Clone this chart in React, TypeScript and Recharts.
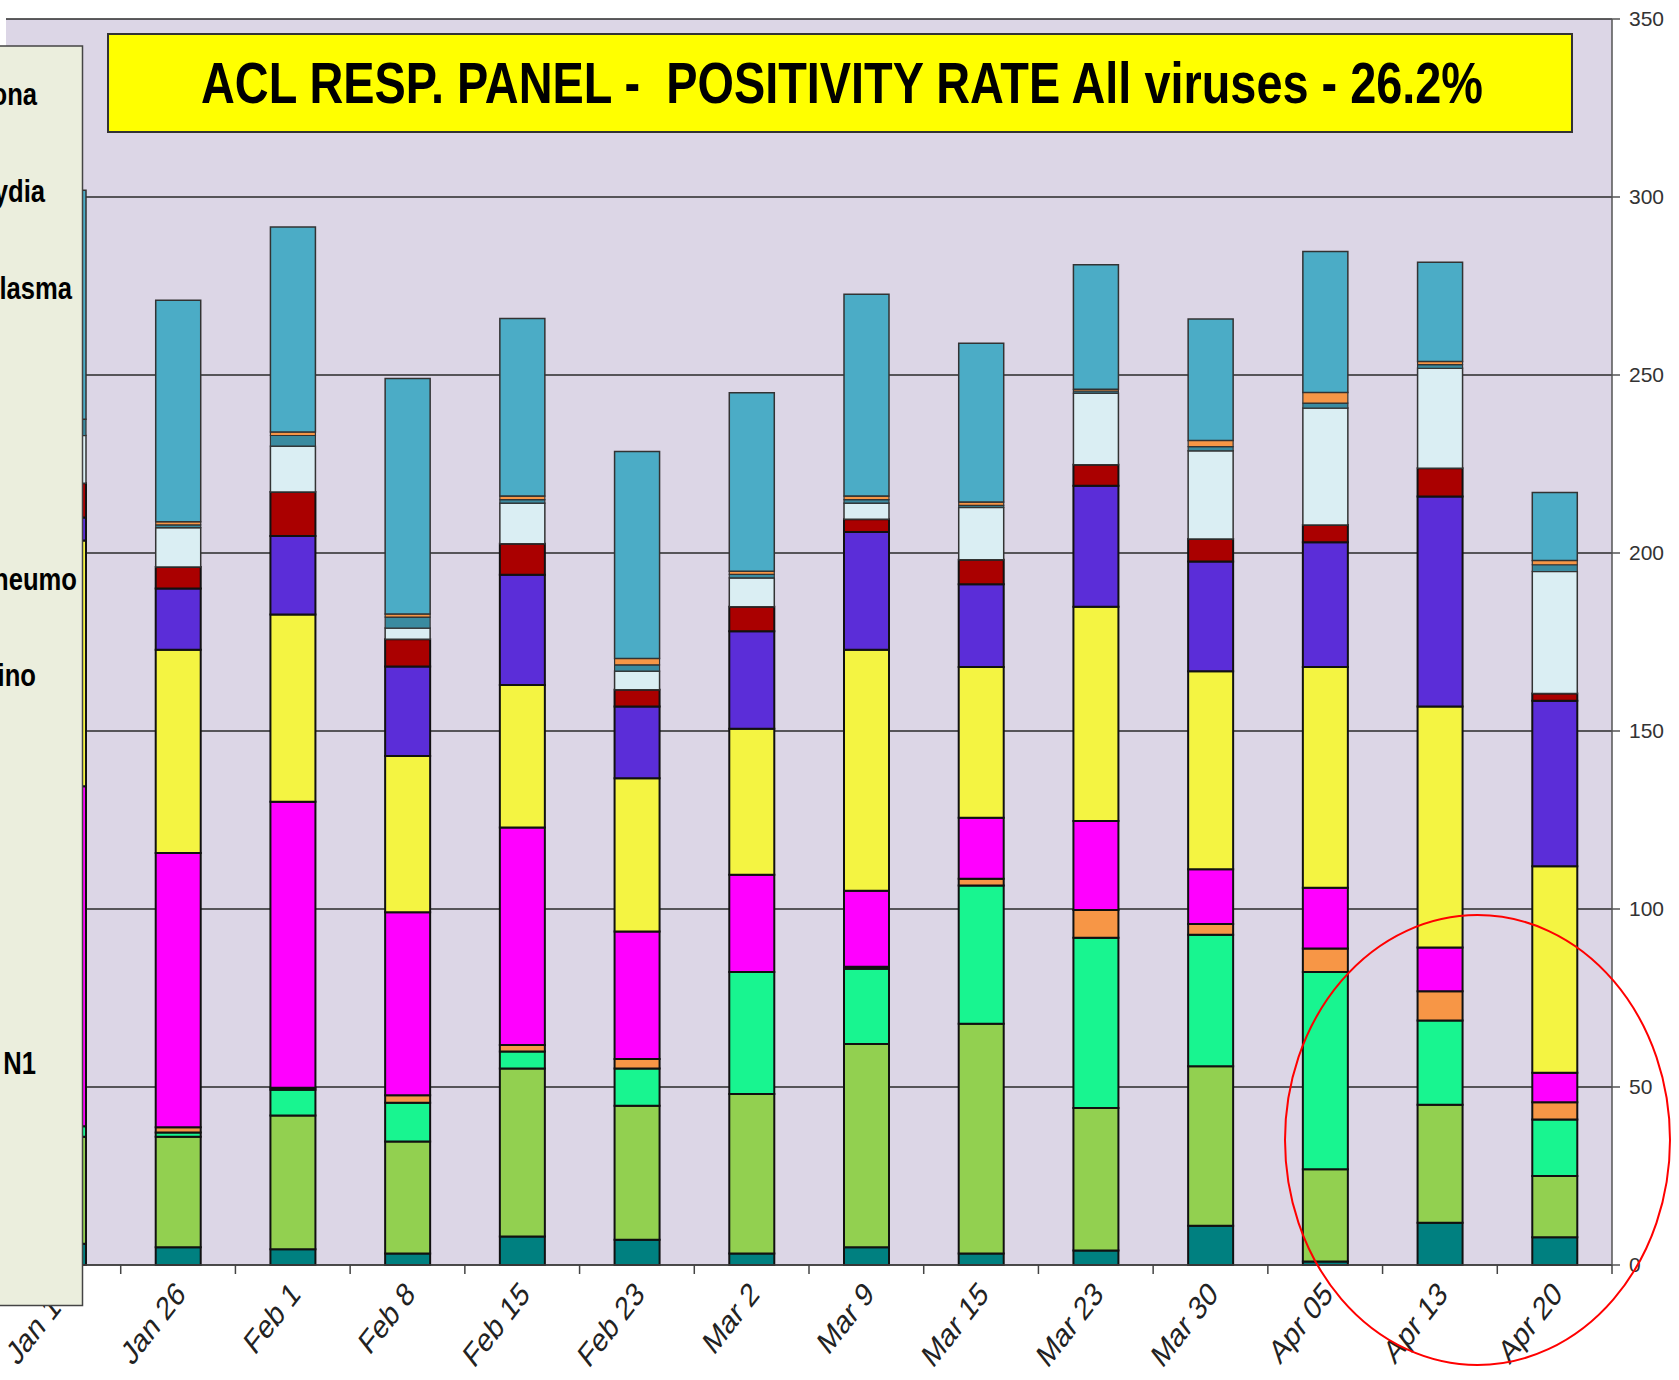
import React from 'react';
import { BarChart, Bar, XAxis, YAxis, CartesianGrid } from 'recharts';

// week labels along the bottom
const weeks = ['Jan 19', 'Jan 26', 'Feb 1', 'Feb 8', 'Feb 15', 'Feb 23', 'Mar 2', 'Mar 9', 'Mar 15', 'Mar 23', 'Mar 30', 'Apr 05', 'Apr 13', 'Apr 20'];

// stacked segments, bottom to top (counts)
const fluAH3 = [6, 5, 4.4, 3.2, 8, 7.1, 3.2, 5, 3.2, 4.1, 11, 1, 11.9, 7.8];
const fluAH1N1 = [30, 31, 37.6, 31.5, 47.2, 37.6, 44.8, 57.1, 64.6, 40, 44.8, 25.9, 33.1, 17.2];
const fluB = [3, 1.2, 7.2, 10.9, 4.8, 10.5, 34.3, 21.1, 38.8, 47.8, 37, 55.4, 23.7, 15.9];
const adeno = [0, 1.5, 0.6, 2.1, 1.8, 2.7, 0, 0.6, 1.9, 7.8, 3, 6.6, 8.2, 4.8];
const rsv = [95.5, 77, 80.3, 51.4, 61.1, 35.8, 27.3, 21.3, 17.1, 25, 15.4, 17.1, 12.3, 8.3];
const rhino = [69, 57.1, 52.6, 43.9, 40, 43, 41, 67.7, 42.4, 60.2, 55.6, 62, 67.7, 58];
const metapneumo = [6.5, 17.2, 22.1, 25.1, 31, 20.2, 27.4, 33.1, 23.2, 34, 30.8, 35, 59, 46.5];
const para1 = [9.6, 6.1, 12.3, 7.7, 8.7, 4.7, 6.9, 3.6, 6.9, 5.9, 6.3, 4.9, 7.9, 2];
const para3 = [13.4, 11, 12.9, 3.1, 11.4, 5.2, 8.1, 4.5, 14.7, 20.1, 24.8, 32.8, 28.1, 34.3];
const mycoplasma = [4.6, 0.8, 3, 3.1, 1, 1.8, 1, 1, 0.6, 0.6, 1.2, 1.4, 1, 1.9];
const chlamydia = [0, 0.9, 1, 0.9, 1, 1.8, 0.9, 1, 0.9, 0.5, 1.7, 3, 0.9, 1.2];
const corona = [64.3, 62.2, 57.6, 66.1, 49.9, 58.1, 50.1, 56.7, 44.6, 35, 34.1, 39.6, 27.9, 19.1];

const yTicks = [0, 50, 100, 150, 200, 250, 300, 350];

// legend rows top to bottom (the box is cut off at the page edge)
const legendLabels = ['Corona', 'Chlamydia', 'Mycoplasma', 'Para 3', 'Para 1', 'Metapneumo', 'Rhino', 'RSV', 'Adeno', 'Flu B', 'Flu A H1 N1', 'Flu A H3', 'Flu A'];

const titleText = 'ACL RESP. PANEL -  POSITIVITY RATE All viruses - 26.2%';

const W = 1679;
const H = 1380;
const MARGIN = { top: 19, right: 7, bottom: 15, left: 6 };
const Y_AXIS_W = 60;
const BAND = (W - MARGIN.left - MARGIN.right - Y_AXIS_W) / weeks.length;
const SANS = '"Liberation Sans", Arial, sans-serif';

// where each legend text ends (most are hidden off the left edge)
const legendTextEnd = [37, 45, 72, -4, -6, 77, 36, -6, -6, -6, 36, -6, -6];

const series = [
  { key: 'fluAH3', name: 'Flu A H3', values: fluAH3, fill: '#008080', stroke: '#111', sw: 2 },
  { key: 'fluAH1N1', name: 'Flu A H1 N1', values: fluAH1N1, fill: '#92D050', stroke: '#111', sw: 2 },
  { key: 'fluB', name: 'Flu B', values: fluB, fill: '#18F590', stroke: '#111', sw: 2 },
  { key: 'adeno', name: 'Adeno', values: adeno, fill: '#F79646', stroke: '#111', sw: 2 },
  { key: 'rsv', name: 'RSV', values: rsv, fill: '#FF00FF', stroke: '#111', sw: 2 },
  { key: 'rhino', name: 'Rhino', values: rhino, fill: '#F4F442', stroke: '#111', sw: 2 },
  { key: 'metapneumo', name: 'Metapneumo', values: metapneumo, fill: '#5B2DD8', stroke: '#111', sw: 2 },
  { key: 'para1', name: 'Para 1', values: para1, fill: '#AA0000', stroke: '#111', sw: 2 },
  { key: 'para3', name: 'Para 3', values: para3, fill: '#DAEEF3', stroke: '#333', sw: 1.5 },
  { key: 'mycoplasma', name: 'Mycoplasma', values: mycoplasma, fill: '#3A8BA0', stroke: '#333', sw: 1.2 },
  { key: 'chlamydia', name: 'Chlamydia', values: chlamydia, fill: '#F79646', stroke: '#333', sw: 1.2 },
  { key: 'corona', name: 'Corona', values: corona, fill: '#4BACC6', stroke: '#333', sw: 1.5 },
];

const rows = weeks.map((week, i) => {
  const row: any = { week };
  series.forEach((s) => {
    row[s.key] = s.values[i];
  });
  return row;
});

// rotated, slightly sheared date labels + excel style ticks between categories
const WeekTick = (props: any) => {
  const { x, y, payload } = props;
  const edge = x + BAND / 2;
  return (
    <g>
      <line x1={edge} y1={y} x2={edge} y2={y + 9} stroke="#444" strokeWidth={1.5} />
      <text
        transform={`translate(${x + 9},${y + 31}) scale(1,1.28) rotate(-45)`}
        textAnchor="end"
        fontSize={26}
        fill="#222"
        fontFamily={SANS}
      >
        {payload.value}
      </text>
    </g>
  );
};

export default function App() {
  return (
    <div style={{ position: 'absolute', left: 0, top: 0, width: W, height: H, background: '#fff', fontFamily: SANS }}>
      <BarChart width={W} height={H} data={rows} margin={MARGIN} barSize={45}>
        <CartesianGrid vertical={false} stroke="#2a2a2a" strokeWidth={1.5} fill="#DCD6E6" fillOpacity={1} />
        <XAxis
          dataKey="week"
          height={100}
          interval={0}
          tickSize={0}
          tickMargin={0}
          tickLine={false}
          axisLine={{ stroke: '#444', strokeWidth: 1.5 }}
          tick={<WeekTick />}
        />
        <YAxis
          orientation="right"
          width={Y_AXIS_W}
          domain={[0, 350]}
          ticks={yTicks}
          interval={0}
          tickSize={8}
          tickMargin={9}
          axisLine={{ stroke: '#555', strokeWidth: 1.5 }}
          tickLine={{ stroke: '#555', strokeWidth: 1.5 }}
          tick={{ fontSize: 21, fill: '#333', fontFamily: SANS }}
        />
        {series.map((s) => (
          <Bar
            key={s.key}
            dataKey={s.key}
            name={s.name}
            stackId="all"
            fill={s.fill}
            stroke={s.stroke}
            strokeWidth={s.sw}
            isAnimationActive={false}
          />
        ))}
      </BarChart>

      <svg width={W} height={H} style={{ position: 'absolute', left: 0, top: 0, pointerEvents: 'none' }}>
        {/* title box */}
        <rect x={108} y={34} width={1464} height={98} fill="#FFFF00" stroke="#333" strokeWidth={2} />
        <text
          x={201}
          y={103}
          fontSize={58}
          fontWeight="bold"
          fontFamily={SANS}
          textLength={1282}
          lengthAdjust="spacingAndGlyphs"
          fill="#000"
          style={{ whiteSpace: 'pre' }}
        >
          {titleText}
        </text>

        {/* legend, cut off at the left edge */}
        <rect x={-10} y={46} width={92.5} height={1259.5} fill="#EBEEDD" stroke="#444" strokeWidth={1.5} />
        {legendLabels.map((label, i) => (
          <text
            key={label}
            transform={`translate(${legendTextEnd[i]},${105 + i * 96.9}) scale(0.8,1)`}
            textAnchor="end"
            fontSize={32}
            fontWeight="bold"
            fontFamily={SANS}
            fill="#000"
          >
            {label}
          </text>
        ))}

        {/* red circle annotation */}
        <ellipse cx={1477.5} cy={1140} rx={192.5} ry={225} fill="none" stroke="#FF0000" strokeWidth={2} />
      </svg>
    </div>
  );
}
